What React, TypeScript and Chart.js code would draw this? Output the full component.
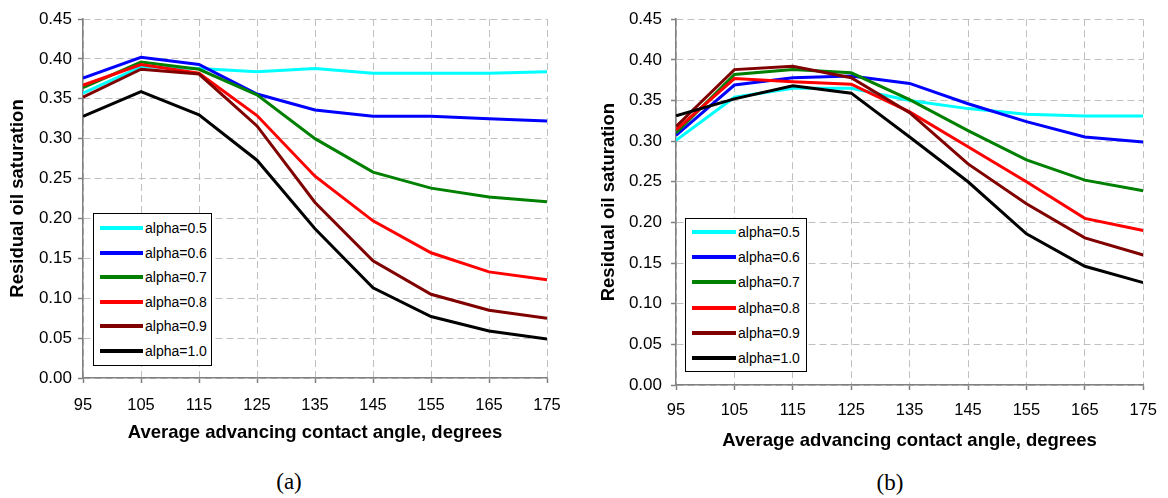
import React, { useEffect, useRef } from "react";
import { Chart, registerables } from "chart.js";

Chart.register(...registerables);

// ---------- data ----------
const angles = [95, 105, 115, 125, 135, 145, 155, 165, 175];
const seriesLabels = ["alpha=0.5", "alpha=0.6", "alpha=0.7", "alpha=0.8", "alpha=0.9", "alpha=1.0"];
const seriesColors = ["#00FFFF", "#0000FF", "#008000", "#FF0000", "#800000", "#000000"];
const yTickMin = 0;
const yTickMax = 0.45;
const yTickStep = 0.05;
const xTickStep = 10;
const xTitle = "Average advancing contact angle, degrees";
const yTitle = "Residual oil saturation";
const captions = ["(a)", "(b)"];

// panel (a)
const a05 = [0.357, 0.390, 0.388, 0.384, 0.388, 0.382, 0.382, 0.382, 0.384];
const a06 = [0.376, 0.402, 0.393, 0.356, 0.336, 0.328, 0.328, 0.325, 0.322];
const a07 = [0.364, 0.396, 0.387, 0.355, 0.300, 0.258, 0.238, 0.227, 0.221];
const a08 = [0.367, 0.393, 0.382, 0.329, 0.253, 0.197, 0.157, 0.133, 0.123];
const a09 = [0.352, 0.387, 0.381, 0.316, 0.220, 0.147, 0.105, 0.085, 0.075];
const a10 = [0.328, 0.359, 0.330, 0.273, 0.187, 0.113, 0.077, 0.059, 0.049];

// panel (b)
const b05 = [0.301, 0.354, 0.365, 0.365, 0.350, 0.340, 0.333, 0.331, 0.331];
const b06 = [0.307, 0.369, 0.378, 0.380, 0.371, 0.346, 0.324, 0.305, 0.299];
const b07 = [0.310, 0.382, 0.388, 0.384, 0.351, 0.313, 0.277, 0.252, 0.239];
const b08 = [0.314, 0.377, 0.373, 0.370, 0.336, 0.293, 0.250, 0.205, 0.190];
const b09 = [0.318, 0.388, 0.392, 0.378, 0.335, 0.272, 0.223, 0.181, 0.160];
const b10 = [0.331, 0.352, 0.368, 0.359, 0.305, 0.250, 0.186, 0.146, 0.126];

const seriesA = [a05, a06, a07, a08, a09, a10];
const seriesB = [b05, b06, b07, b08, b09, b10];

// ---------- layout ----------
type Layout = {
  left: number; top: number; width: number; height: number;
  plotLeft: number; plotRight: number; plotTop: number; plotBottom: number;
  xTitlePad: number; yTitlePad: number; xTickPad: number; yTickPad: number;
  legend: { left: number; top: number; width: number; height: number; first: number; step: number; sample: number };
  caption: { x: number; y: number };
};

const layoutA: Layout = {
  left: 0, top: 0, width: 580, height: 460,
  plotLeft: 83, plotRight: 547, plotTop: 19, plotBottom: 378,
  xTitlePad: 16, yTitlePad: 7, xTickPad: 13, yTickPad: 6,
  legend: { left: 93, top: 213, width: 119, height: 153, first: 14, step: 24.6, sample: 43 },
  caption: { x: 289, y: 482 },
};

const layoutB: Layout = {
  left: 590, top: 0, width: 578, height: 460,
  plotLeft: 86, plotRight: 557, plotTop: 19, plotBottom: 385,
  xTitlePad: 8, yTitlePad: 8, xTickPad: 11, yTickPad: 9,
  legend: { left: 685, top: 218, width: 122, height: 154, first: 13, step: 25.2, sample: 44 },
  caption: { x: 890, y: 483 },
};

const FONT = "'Liberation Sans', Arial, Helvetica, sans-serif";

function Panel({ series, L, caption }: { series: number[][]; L: Layout; caption: string }) {
  const ref = useRef<HTMLCanvasElement | null>(null);

  useEffect(() => {
    if (!ref.current) return;
    const datasets = series.map((vals, i) => ({
      label: seriesLabels[i],
      data: vals.map((v, j) => ({ x: angles[j], y: v })),
      borderColor: seriesColors[i],
      backgroundColor: seriesColors[i],
      borderWidth: 3,
      pointRadius: 0,
      pointHoverRadius: 0,
      tension: 0,
      fill: false,
      order: series.length - i,
    }));
    const chart = new Chart(ref.current, {
      type: "line",
      data: { datasets },
      options: {
        animation: false,
        responsive: false,
        maintainAspectRatio: false,
        layout: { padding: { left: 0, top: L.plotTop, right: L.width - L.plotRight, bottom: 0 } },
        plugins: { legend: { display: false }, tooltip: { enabled: false }, title: { display: false } },
        scales: {
          x: {
            type: "linear",
            min: angles[0],
            max: angles[angles.length - 1],
            afterFit: (s: any) => { s.height = L.height - L.plotBottom; },
            ticks: {
              stepSize: xTickStep,
              color: "#000",
              padding: L.xTickPad,
              font: { family: FONT, size: 16.5 },
              maxRotation: 0,
              autoSkip: false,
            },
            grid: {
              color: "#C0C0C0",
              lineWidth: 1,
              drawTicks: true,
              tickLength: 5,
              tickColor: "#808080",
              tickBorderDash: [],
              tickWidth: 1.5,
            },
            border: { display: true, color: "#808080", width: 1.5, dash: [7, 4] },
            title: {
              display: true,
              text: xTitle,
              color: "#000",
              font: { family: FONT, size: 18.5, weight: "bold" },
              padding: { top: 0, bottom: L.xTitlePad },
            },
          },
          y: {
            type: "linear",
            min: yTickMin,
            max: yTickMax,
            afterFit: (s: any) => { s.width = L.plotLeft; },
            ticks: {
              stepSize: yTickStep,
              color: "#000",
              padding: L.yTickPad,
              font: { family: FONT, size: 17 },
              callback: (v: any) => Number(v).toFixed(2),
            },
            grid: {
              color: "#C0C0C0",
              lineWidth: 1,
              drawTicks: true,
              tickLength: 5,
              tickColor: "#808080",
              tickBorderDash: [],
              tickWidth: 1.5,
            },
            border: { display: true, color: "#808080", width: 1.5, dash: [7, 4] },
            title: {
              display: true,
              text: yTitle,
              color: "#000",
              font: { family: FONT, size: 18.5, weight: "bold" },
              padding: { top: L.yTitlePad, bottom: 0 },
            },
          },
        },
      } as any,
    });
    return () => chart.destroy();
  }, [series, L]);

  const lg = L.legend;
  return (
    <>
      <canvas
        ref={ref}
        width={L.width}
        height={L.height}
        style={{ position: "absolute", left: L.left, top: L.top, width: L.width, height: L.height }}
      />
      <div
        style={{
          position: "absolute",
          left: lg.left,
          top: lg.top,
          width: lg.width,
          height: lg.height,
          boxSizing: "border-box",
          border: "1px solid #000",
          background: "#fff",
          fontFamily: FONT,
          fontSize: 14,
          color: "#000",
        }}
      >
        {seriesLabels.map((lab, i) => (
          <div key={lab} style={{ position: "absolute", left: 0, top: lg.first + i * lg.step - 10, height: 20, width: "100%" }}>
            <div
              style={{
                position: "absolute",
                left: 6,
                top: 8,
                width: lg.sample,
                height: 4,
                background: seriesColors[i],
              }}
            />
            <div style={{ position: "absolute", left: lg.sample + 8, top: 0, lineHeight: "20px", whiteSpace: "nowrap" }}>{lab}</div>
          </div>
        ))}
      </div>
      <div
        style={{
          position: "absolute",
          left: L.caption.x - 40,
          top: L.caption.y - 14,
          width: 80,
          height: 28,
          lineHeight: "28px",
          textAlign: "center",
          fontFamily: "'Liberation Serif', 'Times New Roman', serif",
          fontSize: 23,
          color: "#000",
        }}
      >
        {caption}
      </div>
    </>
  );
}

export default function App() {
  return (
    <div style={{ position: "absolute", left: 0, top: 0, width: 1168, height: 498, background: "#fff", overflow: "hidden" }}>
      <Panel series={seriesA} L={layoutA} caption={captions[0]} />
      <Panel series={seriesB} L={layoutB} caption={captions[1]} />
    </div>
  );
}
